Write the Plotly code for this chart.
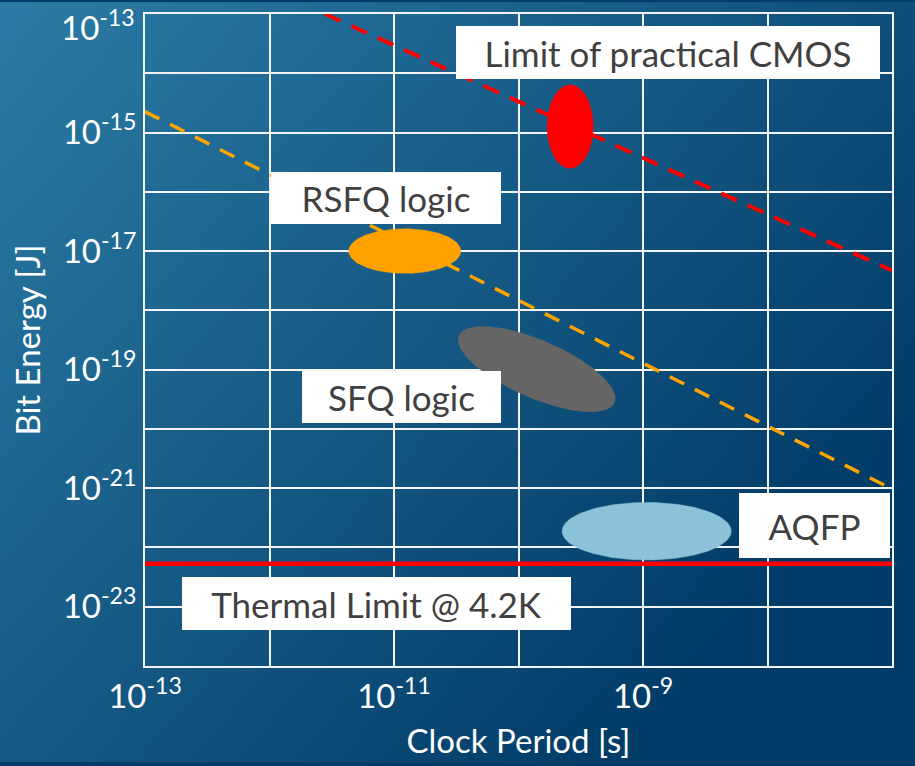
import base64
import numpy as np
import plotly.graph_objects as go

# ---------------- data ----------------
period_ticks = [1e-13, 1e-12, 1e-11, 1e-10, 1e-9, 1e-8, 1e-7]
period_tick_text = ["10<sup>-13</sup>", "", "10<sup>-11</sup>", "", "10<sup>-9</sup>", "", "10<sup>-7</sup>"]
energy_ticks = [1e-24, 1e-23, 1e-22, 1e-21, 1e-20, 1e-19, 1e-18, 1e-17, 1e-16, 1e-15, 1e-14, 1e-13]
energy_tick_text = ["", "10<sup>-23</sup>", "", "10<sup>-21</sup>", "", "10<sup>-19</sup>", "",
                    "10<sup>-17</sup>", "", "10<sup>-15</sup>", "", "10<sup>-13</sup>"]

# Limit of practical CMOS (dashed red)
cmos_limit_period = [2.79e-12, 1e-7]
cmos_limit_energy = [1e-13, 4.7e-18]
# RSFQ trend (dashed orange)
rsfq_trend_period = [1e-13, 1e-7]
rsfq_trend_energy = [2.25e-15, 9.7e-22]
# Thermal limit at 4.2 K (solid red)
thermal_period = [1e-13, 1e-7]
thermal_energy = [5.3e-23, 5.3e-23]

# technology regions (ellipses)
tech_names = ["CMOS", "RSFQ", "SFQ", "AQFP"]
tech_period = [2.6e-10, 1.22e-11, 1.40e-10, 1.07e-9]
tech_energy = [1.26e-15, 1.0e-17, 1.02e-19, 1.88e-22]
tech_period_spread_dec = [0.185, 0.45, 0.68, 0.679]   # half-width in decades
tech_energy_spread_dec = [0.703, 0.376, 0.485, 0.485]  # half-height in decades
tech_tilt_deg = [0, 0, 23.5, 0]
tech_colors = ["#ff0000", "#ffa200", "#666666", "#8bc2d9"]

# ---------------- layout constants ----------------
W, H = 915, 766
ML, MR, MT, MB = 145, 23, 12, 97
PW, PH = W - ML - MR, H - MT - MB
XR = (-13, -7)
YR = (-24, -13)
kx = PW / (XR[1] - XR[0])   # px per decade
ky = PH / (YR[1] - YR[0])

FONT = "Lato, 'Open Sans', sans-serif"
TICK_SIZE = 33

fig = go.Figure()

fig.add_trace(go.Scatter(x=thermal_period, y=thermal_energy, mode="lines",
                         line=dict(color="#ff0000", width=4.5), hoverinfo="skip", cliponaxis=False))
fig.add_trace(go.Scatter(x=cmos_limit_period, y=cmos_limit_energy, mode="lines",
                         line=dict(color="#ff0000", width=4, dash="17px,12px"), hoverinfo="skip"))
fig.add_trace(go.Scatter(x=rsfq_trend_period, y=rsfq_trend_energy, mode="lines",
                         line=dict(color="#ffa500", width=3.5, dash="16px,12px"), hoverinfo="skip"))

t = np.linspace(0, 2 * np.pi, 181)
for name, px, en, sx, sy, tilt, col in zip(tech_names, tech_period, tech_energy,
                                            tech_period_spread_dec, tech_energy_spread_dec,
                                            tech_tilt_deg, tech_colors):
    a = sx * kx
    b = sy * ky
    th = np.radians(tilt)
    dx = a * np.cos(t) * np.cos(th) - b * np.sin(t) * np.sin(th)
    dy = a * np.cos(t) * np.sin(th) + b * np.sin(t) * np.cos(th)  # screen down
    lx = np.log10(px) + dx / kx
    ly = np.log10(en) - dy / ky
    fig.add_trace(go.Scatter(x=10 ** lx, y=10 ** ly, mode="lines", fill="toself",
                             fillcolor=col, line=dict(color=col, width=0.5),
                             hoverinfo="skip", name=name))

# label boxes: (text, log-x centre, log-y centre, width, height)
labels = [
    ("Limit of practical CMOS", -8.799, -13.6525, 424, 53),
    ("RSFQ logic", -11.064, -16.104, 230, 52),
    ("SFQ logic", -10.940, -19.467, 199, 52),
    ("AQFP", -7.622, -21.633, 151, 65),
    ("Thermal Limit @ 4.2K", -11.141, -22.938, 389, 53),
]
annotations = []
for txt, lx, ly, w, h in labels:
    annotations.append(dict(x=lx, y=ly, xref="x", yref="y", text=txt, showarrow=False,
                            bgcolor="white", width=w, height=h, borderpad=0, borderwidth=0,
                            align="center", valign="middle",
                            font=dict(family=FONT, size=35, color="#404040")))

# the topmost y tick label sits a little below its gridline (fits inside the figure)
top_label = energy_tick_text[-1]
energy_tick_text_axis = energy_tick_text[:-1] + [""]
annotations.append(dict(x=0, y=np.log10(energy_ticks[-1]), xref="paper", yref="y",
                        text=top_label, showarrow=False, xanchor="right", yanchor="top",
                        xshift=-8, yshift=13,
                        font=dict(family=FONT, size=TICK_SIZE, color="white")))

svg = (f'<svg xmlns="http://www.w3.org/2000/svg" width="{W}" height="{H}" viewBox="0 0 {W} {H}" '
       f'preserveAspectRatio="none"><defs><linearGradient id="g" gradientUnits="userSpaceOnUse" '
       f'x1="0" y1="0" x2="720" y2="640"><stop offset="0" stop-color="#2b7ca6"/>'
       f'<stop offset="1" stop-color="#023c68"/></linearGradient></defs>'
       f'<rect width="{W}" height="{H}" fill="url(#g)"/></svg>')
src = "data:image/svg+xml;base64," + base64.b64encode(svg.encode()).decode()

axis_common = dict(type="log", showgrid=True, gridcolor="#f4f4f4", gridwidth=2,
                   showline=True, mirror=True, linecolor="#f4f4f4", linewidth=2,
                   ticks="", zeroline=False,
                   tickfont=dict(family=FONT, size=TICK_SIZE, color="white"))

fig.update_layout(
    width=W, height=H,
    margin=dict(l=ML, r=MR, t=MT, b=MB),
    paper_bgcolor="#023c68",
    plot_bgcolor="rgba(0,0,0,0)",
    showlegend=False,
    images=[dict(source=src, xref="paper", yref="paper", x=-ML / PW, y=1 + MT / PH,
                 sizex=W / PW, sizey=H / PH, xanchor="left", yanchor="top",
                 sizing="stretch", layer="below")],
    xaxis=dict(range=list(XR), tickvals=period_ticks, ticktext=period_tick_text,
               title=dict(text="Clock Period [s]", font=dict(family=FONT, size=33, color="white"),
                          standoff=16),
               **axis_common),
    yaxis=dict(range=list(YR), tickvals=energy_ticks, ticktext=energy_tick_text_axis,
               title=dict(text="Bit Energy [J]", font=dict(family=FONT, size=33, color="white"),
                          standoff=12),
               **axis_common),
    annotations=annotations,
)

fig.write_html("out.html", config={"displayModeBar": False},
               post_script="document.body.style.margin='0';document.body.style.overflow='hidden';")
